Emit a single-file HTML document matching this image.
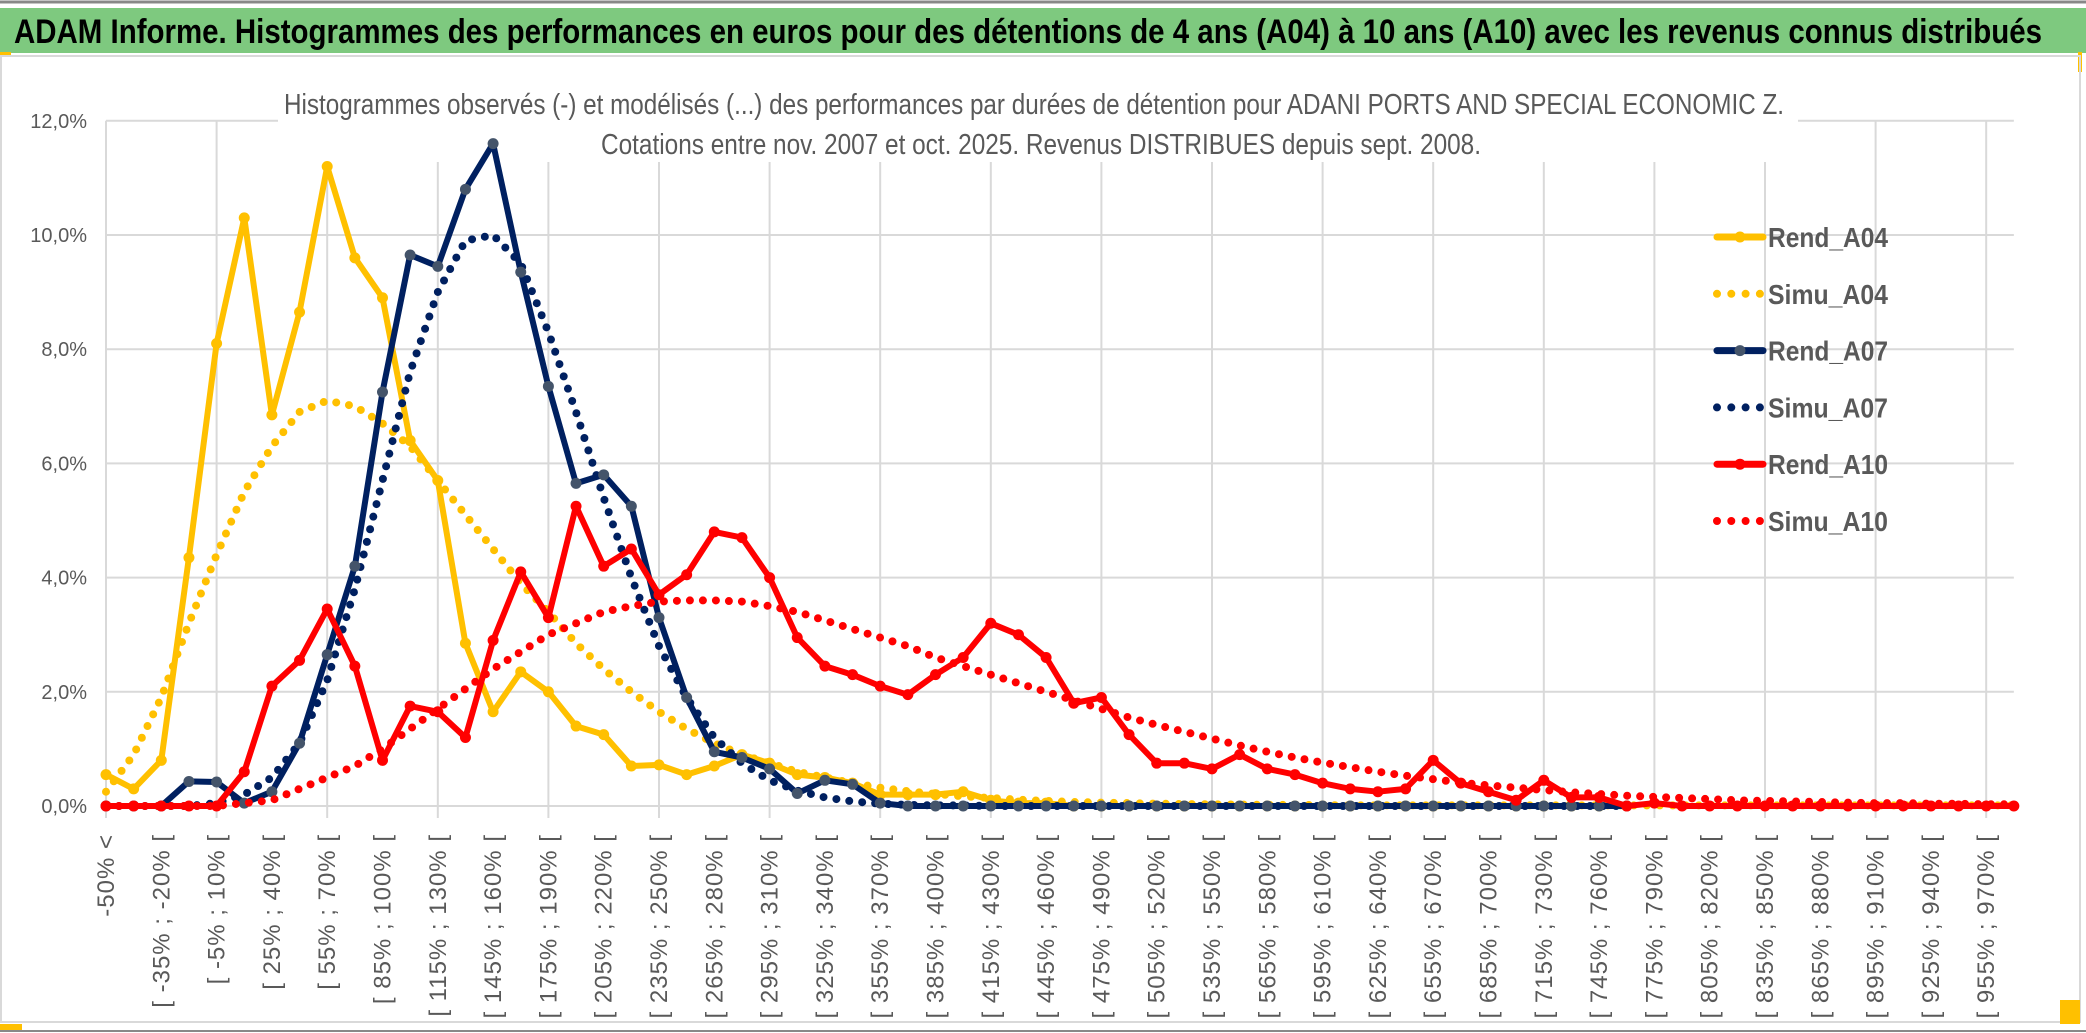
<!DOCTYPE html>
<html><head><meta charset="utf-8"><style>
html,body{margin:0;padding:0;background:#fff;}
svg{display:block;font-family:"Liberation Sans",sans-serif;}
</style></head><body>
<svg id="chart" width="2086" height="1033" viewBox="0 0 2086 1033" xmlns="http://www.w3.org/2000/svg">
<rect x="0" y="0" width="2086" height="1033" fill="#fff"/>
<rect x="0" y="8" width="2086" height="45" fill="#7ec97f"/>
<line x1="0" y1="2" x2="2086" y2="2" stroke="#888" stroke-width="3"/>
<text x="14" y="43" font-size="34" font-weight="bold" fill="#000" textLength="2028" lengthAdjust="spacingAndGlyphs">ADAM Informe. Histogrammes des performances en euros pour des détentions de 4 ans (A04) à 10 ans (A10) avec les revenus connus distribués</text>
<rect x="0" y="52" width="11" height="4" fill="#ffc000"/>
<rect x="2078" y="52" width="4" height="20" fill="#ffc000"/>
<rect x="1" y="56" width="2079" height="966" fill="none" stroke="#d9d9d9" stroke-width="2"/>
<line x1="0" y1="1031" x2="2086" y2="1031" stroke="#888" stroke-width="2"/>
<rect x="0" y="1024" width="22" height="6" fill="#ffc000"/>
<rect x="2060" y="1000" width="20" height="24" fill="#ffc000"/>
<g id="grid"></g>
<g id="yaxis"></g>
<g id="xaxis"></g>
<rect x="278" y="80" width="1520" height="82" fill="#fff"/>
<text x="284" y="114" font-size="29" fill="#595959" textLength="1500" lengthAdjust="spacingAndGlyphs">Histogrammes observés (-) et modélisés (...) des performances par durées de détention pour ADANI  PORTS AND SPECIAL ECONOMIC Z.</text>
<text x="601" y="154" font-size="29" fill="#595959" textLength="880" lengthAdjust="spacingAndGlyphs">Cotations entre nov. 2007 et oct. 2025. Revenus DISTRIBUES depuis sept. 2008.</text>
<g id="series"></g>
<g id="legend"></g>
</svg>
<script>
const categories = (function(){ const c=["-50% <"]; for(let a=-50;a<985;a+=15){c.push("[ "+a+"% ; "+(a+15)+"% [");} return c; })();
const yTicks = [0,2,4,6,8,10,12];
const yTickLabels = ["0,0%","2,0%","4,0%","6,0%","8,0%","10,0%","12,0%"];
const rendA04 = [0.55,0.3,0.8,4.35,8.1,10.3,6.85,8.65,11.2,9.6,8.9,6.4,5.7,2.85,1.65,2.35,2.0,1.4,1.25,0.7,0.72,0.55,0.7,0.9,0.75,0.55,0.5,0.4,0.2,0.2,0.2,0.25,0.1,0.05,0.05,0,0,0,0,0,0,0,0,0,0,0,0,0,0,0,0,0,0,0,0,0];
const simuA04 = [0.25,0.9,1.9,3.2,4.4,5.5,6.3,6.9,7.1,7.0,6.7,6.3,5.7,5.1,4.5,3.9,3.4,2.85,2.4,2.0,1.65,1.35,1.1,0.9,0.75,0.6,0.5,0.4,0.32,0.26,0.21,0.17,0.14,0.11,0.09,0.07,0.06,0.05,0.04,0.035,0.03,0.025,0.02,0.02,0.015,0.01,0.01,0.01,0.01,0.01,0.01,0.01,0.01,0.01,0.01,0.01,0.01,0.01,0.01,0.01,0.01,0.01,0.01,0.01,0.01,0.01,0.01,0.01,0.01,0.01];
const rendA07 = [0,0,0,0.43,0.42,0.05,0.25,1.1,2.65,4.2,7.25,9.65,9.45,10.8,11.6,9.35,7.35,5.65,5.8,5.25,3.3,1.9,0.95,0.85,0.65,0.22,0.45,0.38,0.05,0,0,0,0,0,0,0,0,0,0,0,0,0,0,0,0,0,0,0,0,0,0,0,0,0,0,0];
const simuA07 = [0,0,0,0,0.05,0.2,0.5,1.1,2.2,3.8,5.7,7.6,9.0,9.9,10.0,9.5,8.3,6.9,5.4,4.0,2.8,1.9,1.2,0.75,0.45,0.27,0.15,0.08,0.04,0.02,0.01,0.01,0,0,0,0,0,0,0,0,0,0,0,0,0,0,0,0,0,0,0,0,0,0,0,0];
const rendA10 = [0,0,0,0,0,0.6,2.1,2.55,3.45,2.45,0.8,1.75,1.65,1.2,2.9,4.1,3.3,5.25,4.2,4.5,3.7,4.05,4.8,4.7,4.0,2.95,2.45,2.3,2.1,1.95,2.3,2.6,3.2,3.0,2.6,1.8,1.9,1.25,0.75,0.75,0.65,0.9,0.65,0.55,0.4,0.3,0.25,0.3,0.8,0.4,0.25,0.1,0.45,0.15,0.15,0,0.05,0,0,0,0,0,0,0,0,0,0,0,0,0];
const simuA10 = [0,0,0,0,0,0.05,0.1,0.3,0.5,0.7,1.0,1.35,1.7,2.05,2.4,2.7,3.0,3.2,3.4,3.5,3.58,3.6,3.6,3.58,3.5,3.4,3.25,3.1,2.95,2.8,2.6,2.45,2.3,2.15,2.0,1.85,1.7,1.55,1.42,1.3,1.18,1.06,0.95,0.85,0.76,0.68,0.6,0.53,0.47,0.41,0.36,0.32,0.28,0.24,0.21,0.18,0.16,0.14,0.12,0.1,0.09,0.08,0.07,0.06,0.05,0.05,0.04,0.04,0.03,0.03];
const seriesNames = ["Rend_A04","Simu_A04","Rend_A07","Simu_A07","Rend_A10","Simu_A10"];

const NS="http://www.w3.org/2000/svg";
const X0=106, DX=27.65, Y0=806, YPX=57.1;
function xs(i){return X0+i*DX;}
function ys(v){return Y0-v*YPX;}
function mk(tag,parent,attrs){const e=document.createElementNS(NS,tag);for(const k in attrs)e.setAttribute(k,attrs[k]);parent.appendChild(e);return e;}

const grid=document.getElementById('grid');
yTicks.forEach((t,k)=>{
  const l=mk('line',grid,{x1:X0,x2:xs(categories.length-1),y1:ys(t),y2:ys(t),stroke:'#d9d9d9','stroke-width':2});
  
  
  const tx=mk('text',document.getElementById('yaxis'),{x:87,y:ys(t)+7,'font-size':20,fill:'#595959','text-anchor':'end'});
  tx.textContent=yTickLabels[k];
  
  
});
for(let i=0;i<categories.length;i+=4){
  const l=mk('line',grid,{x1:xs(i),x2:xs(i),y1:ys(12),y2:Y0+12,stroke:'#d9d9d9','stroke-width':2});
  
  
}
const xa=document.getElementById('xaxis');
for(let i=0;i<categories.length;i+=2){
  const x=xs(i)+8;
  const tx=mk('text',xa,{x:x,y:834,'font-size':24,'letter-spacing':1,fill:'#595959','text-anchor':'end',transform:'rotate(-90 '+x+' 834)'});
  tx.textContent=categories[i];
  
  
}
const sg=document.getElementById('series');
function pts(arr){return arr.map((v,i)=>xs(i).toFixed(1)+','+ys(v).toFixed(1)).join(' ');}
function dotted(arr,color,name){
  const p=mk('polyline',sg,{points:pts(arr),fill:'none',stroke:color,'stroke-width':8,'stroke-linecap':'round','stroke-dasharray':'0 13'});
  
  
}
function solid(arr,color,mcolor,name){
  const p=mk('polyline',sg,{points:pts(arr),fill:'none',stroke:color,'stroke-width':6,'stroke-linejoin':'round'});
  
  
  arr.forEach((v,i)=>{
    const c=mk('circle',sg,{cx:xs(i),cy:ys(v),r:5.5,fill:mcolor});
    
    
  });
}
dotted(simuA04,'#ffc000','simu-a04-line');
solid(rendA04,'#ffc000','#ffc000','rend-a04-line');
dotted(simuA07,'#002060','simu-a07-line');
solid(rendA07,'#002060','#44546a','rend-a07-line');
dotted(simuA10,'#ff0000','simu-a10-line');
solid(rendA10,'#ff0000','#ff0000','rend-a10-line');

const lg=document.getElementById('legend');
const lstyle=[['#ffc000','#ffc000',false],['#ffc000',null,true],['#002060','#44546a',false],['#002060',null,true],['#ff0000','#ff0000',false],['#ff0000',null,true]];
seriesNames.forEach((n,k)=>{
  const y=237+k*56.8;
  const g=mk('g',lg,{});
  
  
  const s=lstyle[k];
  if(s[2]){
    mk('line',g,{x1:1717,x2:1760,y1:y,y2:y,stroke:s[0],'stroke-width':8,'stroke-linecap':'round','stroke-dasharray':'0 14.3'});
  } else {
    mk('line',g,{x1:1717,x2:1763,y1:y,y2:y,stroke:s[0],'stroke-width':7,'stroke-linecap':'round'});
    mk('circle',g,{cx:1740,cy:y,r:5.5,fill:s[1]});
  }
  const t=mk('text',g,{x:1768,y:y+10,'font-size':28,'font-weight':'bold',fill:'#595959',textLength:120,lengthAdjust:'spacingAndGlyphs'});
  t.textContent=n;
});
</script>
</body></html>
